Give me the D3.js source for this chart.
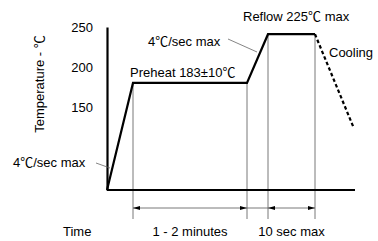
<!DOCTYPE html>
<html>
<head>
<meta charset="utf-8">
<script src="https://cdn.jsdelivr.net/npm/d3@7"></script>
<style>
body { margin: 0; background: #fff; }
text { font-family: "Liberation Sans", "Noto Sans CJK JP", sans-serif; font-size: 13px; fill: #000; }
</style>
</head>
<body>
<script>
var w = 378;
var h = 241;

// reflow profile (schematic)
var profileTime = [0, 26, 140, 161, 208];
var profileTemp = [46, 180, 180, 241, 241];
var coolTime = [208, 246];
var coolTemp = [241, 126];
var yTicks = [150, 200, 250];
// dimension marks below the axis
var markTime = [26, 140, 161, 208];
var markTemp = [180, 180, 241, 241];
var spanLabels = ["1 - 2 minutes", "10 sec max"];

var svg = d3.select("body")
    .append("svg")
    .attr("width", w)
    .attr("height", h);

var xScale = d3.scaleLinear()
    .domain([0, 248])
    .range([107, 355]);

var yScale = d3.scaleLinear()
    .domain([46, 250])
    .range([190, 27]);

var line = d3.line()
    .x(d => xScale(d[0]))
    .y(d => yScale(d[1]));

//thin guide lines
svg.selectAll("line.guide")
    .data(markTime)
    .enter()
    .append("line")
    .attr("class", "guide")
    .attr("x1", d => xScale(d))
    .attr("x2", d => xScale(d))
    .attr("y1", (d, i) => yScale(markTemp[i]))
    .attr("y2", 219)
    .attr("stroke", "#555")
    .attr("stroke-width", 0.8);

//axes
var yAxis = d3.axisLeft(yScale)
    .tickValues(yTicks)
    .tickSize(0)
    .tickPadding(14);

var gy = svg.append("g")
    .attr("transform", "translate(107,0)")
    .call(yAxis);
gy.select(".domain").attr("stroke-width", 2.2);
gy.selectAll("text")
    .style("font-size", "13px")
    .style("font-family", "Liberation Sans, Arial, sans-serif");

svg.append("line")
    .attr("x1", xScale(0))
    .attr("x2", xScale(248))
    .attr("y1", yScale(46))
    .attr("y2", yScale(46))
    .attr("stroke", "#000")
    .attr("stroke-width", 2);

//profile
svg.append("path")
    .datum(d3.zip(profileTime, profileTemp))
    .attr("d", line)
    .attr("fill", "none")
    .attr("stroke", "#000")
    .attr("stroke-width", 2.2);

svg.append("path")
    .datum(d3.zip(coolTime, coolTemp))
    .attr("d", line)
    .attr("fill", "none")
    .attr("stroke", "#000")
    .attr("stroke-width", 2.2)
    .attr("stroke-dasharray", "3.5,2.5");

//dimension line + arrows
var dimY = 208;
svg.append("line")
    .attr("x1", xScale(markTime[0]))
    .attr("x2", xScale(markTime[3]))
    .attr("y1", dimY)
    .attr("y2", dimY)
    .attr("stroke", "#555")
    .attr("stroke-width", 0.8);

var arrows = [[markTime[0], 1], [markTime[1], -1], [markTime[2], 1], [markTime[3], -1]];
svg.selectAll("path.arrow")
    .data(arrows)
    .enter()
    .append("path")
    .attr("class", "arrow")
    .attr("d", function(d) {
        var x = xScale(d[0]);
        return "M" + x + "," + dimY + "L" + (x + 7 * d[1]) + "," + (dimY - 2) +
            "L" + (x + 7 * d[1]) + "," + (dimY + 2) + "Z";
    })
    .attr("fill", "#000");

//labels
svg.append("text")
    .text("Temperature - ℃")
    .attr("text-anchor", "middle")
    .attr("transform", "translate(44,84) rotate(-90)");

svg.append("text").text("Time").attr("x", 63).attr("y", 236);
svg.append("text").text(spanLabels[0])
    .attr("text-anchor", "middle")
    .attr("x", (xScale(markTime[0]) + xScale(markTime[1])) / 2)
    .attr("y", 236);
svg.append("text").text(spanLabels[1])
    .attr("text-anchor", "middle")
    .attr("x", (xScale(markTime[2]) + xScale(markTime[3])) / 2)
    .attr("y", 236);

svg.append("text").text("4℃/sec max").attr("x", 13).attr("y", 167);
svg.append("line")
    .attr("x1", 96).attr("y1", 163)
    .attr("x2", 110).attr("y2", 168)
    .attr("stroke", "#666").attr("stroke-width", 0.8);

svg.append("text").text("4℃/sec max").attr("x", 148).attr("y", 46);
svg.append("line")
    .attr("x1", 228).attr("y1", 39)
    .attr("x2", 257).attr("y2", 52)
    .attr("stroke", "#666").attr("stroke-width", 0.8);

svg.append("text").text("Preheat 183±10℃").attr("x", 130).attr("y", 77);
svg.append("text").text("Reflow 225℃ max").attr("x", 243).attr("y", 21);
svg.append("text").text("Cooling").attr("x", 329).attr("y", 57);
</script>
</body>
</html>
